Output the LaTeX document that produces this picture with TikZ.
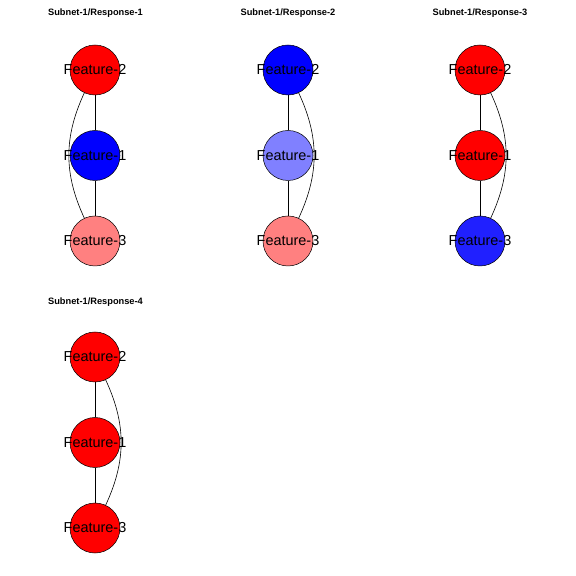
\documentclass[tikz,border=0pt]{standalone}
\usepackage{fontspec}
\setmainfont{Liberation Sans}
\usepackage{tikz}
\usetikzlibrary{positioning}

\definecolor{featred}{HTML}{FF0000}
\definecolor{featblue}{HTML}{0000FF}
\definecolor{paleRed}{HTML}{FF8080}
\definecolor{paleBlue}{HTML}{8080FF}
\definecolor{deepBlue}{HTML}{2020FF}

\begin{document}
\begin{tikzpicture}[
  x=1bp, y=1bp,
  feat/.style={draw, circle, minimum size=50bp, inner sep=0pt, line width=0.5bp},
  ttl/.style={font=\bfseries\fontsize{9.3}{11}\selectfont, inner sep=0pt},
  lbl/.style={font=\fontsize{14.5}{17}\selectfont, inner sep=0pt},
  edge/.style={line width=0.6bp, black},
]
  \useasboundingbox[fill=white] (0,0) rectangle (576,576);

  % panel 1
  \node[ttl] (t1) at (95.5,563) {Subnet-1/Response-1};
  \node[feat, fill=featred]  (a2) at (95,506) {};
  \node[feat, fill=featblue, below=35bp of a2] (a1) {};
  \node[feat, fill=paleRed,  below=35bp of a1] (a3) {};
  \draw[edge] (a2) -- (a1);
  \draw[edge] (a1) -- (a3);
  \draw[edge] (a2) to[bend right=25] (a3);
  \node[lbl] at (a2) {Feature-2};
  \node[lbl] at (a1) {Feature-1};
  \node[lbl] at (a3) {Feature-3};

  % panel 2
  \node[ttl] (t2) at (288,563) {Subnet-1/Response-2};
  \node[feat, fill=featblue] (b2) at (288,506) {};
  \node[feat, fill=paleBlue, below=35bp of b2] (b1) {};
  \node[feat, fill=paleRed,  below=35bp of b1] (b3) {};
  \draw[edge] (b2) -- (b1);
  \draw[edge] (b1) -- (b3);
  \draw[edge] (b2) to[bend left=25] (b3);
  \node[lbl] at (b2) {Feature-2};
  \node[lbl] at (b1) {Feature-1};
  \node[lbl] at (b3) {Feature-3};

  % panel 3
  \node[ttl] (t3) at (480,563) {Subnet-1/Response-3};
  \node[feat, fill=featred]  (c2) at (480,506) {};
  \node[feat, fill=featred,  below=35bp of c2] (c1) {};
  \node[feat, fill=deepBlue, below=35bp of c1] (c3) {};
  \draw[edge] (c2) -- (c1);
  \draw[edge] (c1) -- (c3);
  \draw[edge] (c2) to[bend left=25] (c3);
  \node[lbl] at (c2) {Feature-2};
  \node[lbl] at (c1) {Feature-1};
  \node[lbl] at (c3) {Feature-3};

  % panel 4
  \node[ttl] (t4) at (95.5,274) {Subnet-1/Response-4};
  \node[feat, fill=featred] (d2) at (95,219) {};
  \node[feat, fill=featred, below=35bp of d2] (d1) {};
  \node[feat, fill=featred, below=35bp of d1] (d3) {};
  \draw[edge] (d2) -- (d1);
  \draw[edge] (d1) -- (d3);
  \draw[edge] (d2) to[bend left=25] (d3);
  \node[lbl] at (d2) {Feature-2};
  \node[lbl] at (d1) {Feature-1};
  \node[lbl] at (d3) {Feature-3};
\end{tikzpicture}
\end{document}
